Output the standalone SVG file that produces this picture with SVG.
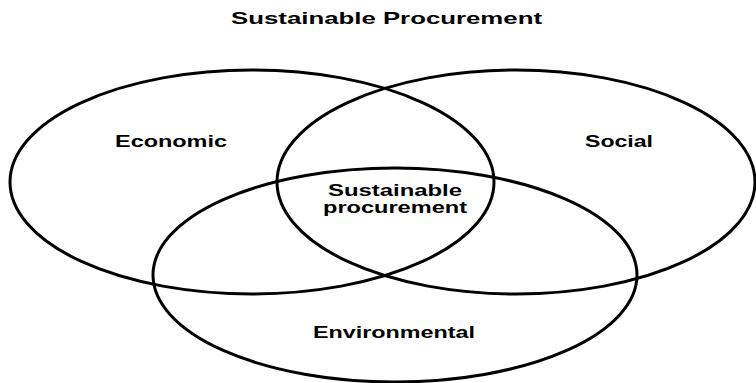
<svg xmlns="http://www.w3.org/2000/svg" width="756" height="383" viewBox="0 0 756 383">
  <style>
    .set { fill: none; stroke: #000; stroke-width: 3; }
    .lbl { font-family: "Liberation Sans", Arial, sans-serif; font-weight: bold; font-size: 16px; fill: #000; text-anchor: middle; }
  </style>
  <rect width="756" height="383" fill="#fff"/>
  <text class="lbl" x="386.5" y="24" style="font-size:16.5px" textLength="311" lengthAdjust="spacingAndGlyphs">Sustainable Procurement</text>
  <g id="economic">
    <ellipse class="set" cx="252" cy="182" rx="242" ry="112"/>
    <text class="lbl" x="171" y="147" textLength="112" lengthAdjust="spacingAndGlyphs">Economic</text>
  </g>
  <g id="social">
    <ellipse class="set" cx="516" cy="182" rx="239" ry="112"/>
    <text class="lbl" x="619" y="147" textLength="68" lengthAdjust="spacingAndGlyphs">Social</text>
  </g>
  <g id="environmental">
    <ellipse class="set" cx="395" cy="275" rx="242" ry="107"/>
    <text class="lbl" x="394" y="338" textLength="162" lengthAdjust="spacingAndGlyphs">Environmental</text>
  </g>
  <g id="sustainable-procurement">
    <text class="lbl" x="395" y="196" textLength="134" lengthAdjust="spacingAndGlyphs">Sustainable</text>
    <text class="lbl" x="395" y="213" textLength="144" lengthAdjust="spacingAndGlyphs">procurement</text>
  </g>
</svg>
